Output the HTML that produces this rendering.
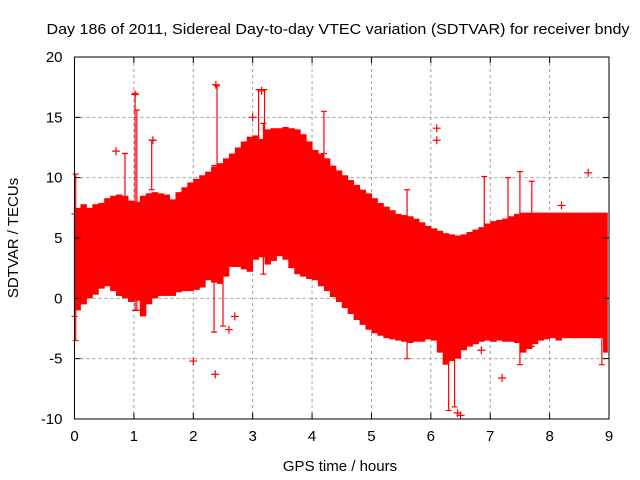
<!DOCTYPE html>
<html><head><meta charset="utf-8"><style>
body{margin:0;background:#fff;}
svg{display:block;font-family:"Liberation Sans",sans-serif;}
</style></head><body>
<svg id="chart" width="640" height="480">
<text x="338" y="34" text-anchor="middle" font-size="15" textLength="583" lengthAdjust="spacingAndGlyphs">Day 186 of 2011, Sidereal Day-to-day VTEC variation (SDTVAR) for receiver bndy</text>
<text x="340" y="471" text-anchor="middle" font-size="15">GPS time / hours</text>
<text transform="translate(18,238) rotate(-90)" text-anchor="middle" font-size="15">SDTVAR / TECUs</text>
<g id="grid"></g><g id="marks"></g><g id="axes"></g>
</svg>
<script>
const xTicks=[0,1,2,3,4,5,6,7,8,9];
const yTicks=[-10,-5,0,5,10,15,20];
const hours=[];for(let i=0;i<90;i++)hours.push(i/10);
const upper=[7.5,7.8,7.5,7.8,7.9,8.3,8.5,8.6,8.5,8.1,8.0,8.5,8.7,8.8,8.7,8.6,8.2,8.8,9.2,9.6,9.9,10.2,10.5,10.9,11.2,11.6,12.0,12.5,13.0,13.4,13.5,13.2,14.0,14.1,14.1,14.2,14.1,14.0,13.6,13.0,12.3,12.0,11.6,11.0,10.6,10.2,9.8,9.4,9.0,8.7,8.3,7.9,7.6,7.3,7.0,6.9,6.8,6.6,6.3,6.0,5.8,5.6,5.4,5.3,5.2,5.3,5.5,5.7,5.9,6.2,6.4,6.5,6.6,6.8,7.0,7.1,7.1,7.1,7.1,7.1,7.1,7.1,7.1,7.1,7.1,7.1,7.1,7.1,7.1,7.1];
const lower=[-1,-0.5,0,0.3,0.8,1.0,0.6,0.2,0.0,-0.3,-0.2,-1.5,-0.5,0,0.2,0.2,0.2,0.5,0.6,0.6,0.7,0.9,1.5,1.3,1.2,1.8,2.6,2.6,2.4,2.2,3.2,3.4,2.8,3.1,3.5,3.2,2.5,2.0,1.8,1.6,1.5,1.0,0.6,0.1,-0.3,-0.8,-1.3,-1.8,-2.2,-2.6,-2.9,-3.1,-3.3,-3.4,-3.5,-3.6,-3.7,-3.6,-3.6,-3.4,-3.5,-4.5,-5.5,-5.2,-5.0,-4.3,-4.0,-3.8,-3.6,-3.5,-3.6,-3.5,-3.6,-3.6,-3.7,-4.5,-4.2,-3.8,-3.5,-3.4,-3.3,-3.5,-3.3,-3.3,-3.3,-3.3,-3.3,-3.3,-3.3,-4.5];
const spikeX=[0.02,1.02,1.05,0.85,1.3,2.4,2.35,2.5,3.1,3.2,3.18,4.2,5.6,6.4,6.3,6.9,7.3,7.5,7.7,8.88,0.0];
const spikeLo=[-3.5,-1,-1,5,9,7,-2.8,-2.3,10,10,2,12,-5,-9,-9.3,-3,5,-5.5,-4,-5.5,-1.5];
const spikeHi=[10.3,17,15.6,12,13.1,17.6,11,9,17.3,17.3,14.5,15.5,9,5,4,10.1,10,10.5,9.7,7,7];
const ptX=[2.0,2.37,2.7,2.6,6.1,6.1,8.65,7.2,6.5,6.45,3.0,0.7,1.32,8.2,6.85,4.3,2.38,1.02,3.15];
const ptY=[-5.2,-6.3,-1.5,-2.6,14.1,13.1,10.4,-6.6,-9.7,-9.5,15,12.2,13.1,7.7,-4.3,9.8,17.7,16.9,17.2];
const X0=74.5,X1=609,Y0=419,Y1=57;
const sx=h=>X0+(h/9)*(X1-X0);
const sy=v=>Y0-((v+10)/30)*(Y0-Y1);
const NS="http://www.w3.org/2000/svg";
function mk(t,a,p){const e=document.createElementNS(NS,t);for(const k in a)e.setAttribute(k,a[k]);p.appendChild(e);return e;}
const grid=document.getElementById('grid'),marks=document.getElementById('marks'),axes=document.getElementById('axes');
xTicks.forEach(t=>{
 if(t>0&&t<9){const l=mk('line',{x1:sx(t),x2:sx(t),y1:Y1,y2:Y0,stroke:'#a0a0a0','stroke-dasharray':'3,3'},grid);
 
 }
 const tk=mk('path',{d:`M${sx(t)},${Y0}v-6M${sx(t)},${Y1}v6`,stroke:'#000'},axes);
 
 
 const tx=mk('text',{x:sx(t),y:Y0+22,'text-anchor':'middle','font-size':15},axes);tx.textContent=t;
 
 
});
yTicks.forEach(t=>{
 if(t>-10&&t<20){const l=mk('line',{x1:X0,x2:X1,y1:sy(t),y2:sy(t),stroke:'#a0a0a0','stroke-dasharray':'3,3'},grid);
 
 }
 const tk=mk('path',{d:`M${X0},${sy(t)}h6M${X1},${sy(t)}h-6`,stroke:'#000'},axes);
 
 
 const tx=mk('text',{x:X0-12,y:sy(t)+5,'text-anchor':'end','font-size':15},axes);tx.textContent=t;
 
 
});
const fr=mk('rect',{x:X0,y:Y1,width:X1-X0,height:Y0-Y1,fill:'none',stroke:'#000'},axes);


hours.forEach((h,i)=>{
 const x=sx(h),w=(i===hours.length-1)?sx(0.08)-sx(0):sx(h+0.1)-x+0.5;
 const r=mk('rect',{x:x,y:sy(upper[i]),width:w,height:sy(lower[i])-sy(upper[i]),fill:'#ff0000'},marks);
 
 
});
spikeX.forEach((h,i)=>{
 const x=sx(h),a=sy(spikeHi[i]),b=sy(spikeLo[i]);
 const p=mk('path',{d:`M${x},${a}V${b}M${x-3},${a}h6M${x-3},${b}h6`,stroke:'#ff0000','stroke-width':1.2,fill:'none'},marks);
 
 
});
ptX.forEach((h,i)=>{
 const x=sx(h),y=sy(ptY[i]);
 const p=mk('path',{d:`M${x-4},${y}h8M${x},${y-4}v8`,stroke:'#ff0000','stroke-width':1.2},marks);
 
 
});
</script>
</body></html>
